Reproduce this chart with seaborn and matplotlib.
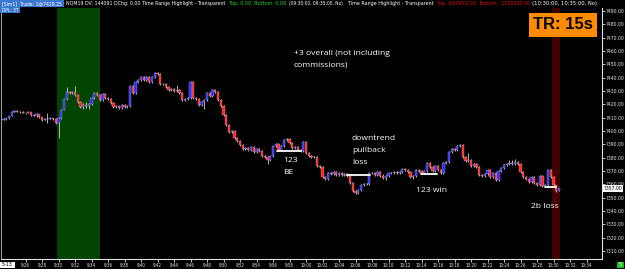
import matplotlib
matplotlib.use("Agg")
import matplotlib.pyplot as plt
import matplotlib.font_manager as fm
from matplotlib.font_manager import FontProperties
from matplotlib.patches import Rectangle
import numpy as np
import pandas as pd
import seaborn as sns

# ---------------- data ----------------
start_time = "2019-05-13 09:23:20"
bar_seconds = 20
tick_size = 0.25
first_open = 7408.50
last_price = 7357.00

closes = [
    7409.00, 7409.75,                      # 9:23
    7411.25, 7414.25, 7415.00,             # 9:24
    7414.25, 7414.50, 7413.50,             # 9:25
    7413.50, 7414.25, 7412.00,             # 9:26
    7411.25, 7412.75, 7410.50,             # 9:27
    7408.25, 7409.00, 7409.25,             # 9:28
    7409.75, 7409.00, 7406.00,             # 9:29
    7409.75, 7415.75, 7424.00,             # 9:30
    7429.25, 7428.50, 7429.25,             # 9:31
    7427.00, 7421.75, 7418.00,             # 9:32
    7419.50, 7418.75, 7420.25,             # 9:33
    7424.75, 7428.50, 7427.00,             # 9:34
    7423.25, 7427.75, 7424.75,             # 9:35
    7424.00, 7421.00, 7418.00,             # 9:36
    7418.75, 7417.25, 7419.50,             # 9:37
    7418.00, 7418.75, 7433.75,             # 9:38
    7428.50, 7436.75, 7438.25,             # 9:39
    7440.50, 7438.25, 7440.50,             # 9:40
    7436.75, 7440.50, 7443.50,             # 9:41
    7442.75, 7435.25, 7435.50,             # 9:42
    7433.00, 7430.75, 7431.50,             # 9:43
    7430.00, 7430.75, 7428.50,             # 9:44
    7423.25, 7424.00, 7424.75,             # 9:45
    7436.75, 7424.75, 7424.00,             # 9:46
    7419.50, 7421.75, 7423.25,             # 9:47
    7428.50, 7426.25, 7430.75,             # 9:48
    7429.25, 7423.25, 7418.75,             # 9:49
    7412.00, 7404.50, 7399.25,             # 9:50
    7400.00, 7394.75, 7392.50,             # 9:51
    7389.50, 7386.50, 7387.25,             # 9:52
    7385.75, 7388.00, 7384.25,             # 9:53
    7386.50, 7385.00, 7381.25,             # 9:54
    7380.50, 7378.25, 7381.25,             # 9:55
    7388.75, 7390.25, 7385.75,             # 9:56
    7388.75, 7393.25, 7394.00,             # 9:57
    7391.00, 7387.25, 7388.00,             # 9:58
    7385.75, 7385.00, 7391.75,             # 9:59
    7383.50, 7381.25, 7380.50,             # 10:00
    7380.75, 7373.75, 7373.00,             # 10:01
    7365.50, 7364.00, 7368.50,             # 10:02
    7367.75, 7369.25, 7367.00,             # 10:03
    7368.50, 7367.00, 7367.75,             # 10:04
    7366.25, 7361.00, 7355.00,             # 10:05
    7353.50, 7355.75, 7359.50,             # 10:06
    7360.25, 7360.00, 7368.50,             # 10:07
    7368.25, 7367.00, 7369.25,             # 10:08
    7366.25, 7364.75, 7366.25,             # 10:09
    7368.50, 7368.25, 7369.25,             # 10:10
    7368.50, 7369.25, 7371.50,             # 10:11
    7370.75, 7369.25, 7365.50,             # 10:12
    7366.25, 7370.75, 7370.00,             # 10:13
    7368.50, 7370.00, 7376.00,             # 10:14
    7373.00, 7370.00, 7373.75,             # 10:15
    7370.75, 7368.50, 7376.00,             # 10:16
    7376.75, 7384.25, 7386.50,             # 10:17
    7385.75, 7388.75, 7389.50,             # 10:18
    7380.50, 7377.50, 7378.25,             # 10:19
    7373.75, 7375.25, 7373.00,             # 10:20
    7367.00, 7366.25, 7367.75,             # 10:21
    7370.75, 7365.50, 7368.50,             # 10:22
    7363.25, 7370.00, 7372.25,             # 10:23
    7374.50, 7375.25, 7376.00,             # 10:24
    7375.25, 7376.75, 7375.25,             # 10:25
    7369.25, 7365.50, 7364.00,             # 10:26
    7361.75, 7365.50, 7361.00,             # 10:27
    7359.50, 7366.25, 7358.75,             # 10:28
    7359.50, 7370.75, 7365.50,             # 10:29
    7359.50, 7355.00, 7357.00,             # 10:30
]

# wick lengths above / below the body, in ticks
upper_wick_ticks = [
    2, 1,  1, 2, 2,  2, 1, 2,  1, 2, 1,  2, 2, 1,  1, 2, 16,  2, 1, 2,
    2, 2, 3,  15, 3, 2,  18, 2, 2,  6, 8, 4,  2, 3, 4,  3, 2, 3,  2, 3, 2,
    3, 2, 4,  2, 3, 2,  4, 2, 3,  3, 2, 4,  2, 3, 3,  3, 2, 2,  2, 3, 2,
    3, 15, 2,  2, 3, 2,  2, 2, 3,  3, 2, 2,  2, 3, 2,  3, 2, 2,  2, 2, 3,
    2, 3, 2,  3, 2, 2,  4, 3, 2,  3, 4, 2,  2, 2, 3,  3, 2, 3,  2, 3, 4,
    3, 2, 2,  2, 3, 2,  3, 2, 2,  2, 3, 2,  2, 2, 3,  3, 2, 2,  2, 3, 2,
    2, 2, 2,  2, 3, 2,  3, 2, 2,  4, 3, 2,  3, 6, 2,  4, 3, 2,  2, 3, 4,
    3, 2, 2,  2, 3, 2,  3, 2, 3,  2, 3, 2,  4, 2, 3,  2, 3, 2,  3, 2, 3,
    2, 3, 20,  3, 2, 3,  2, 3, 2,  3, 2, 3,  2, 3, 2,  4, 3, 10,  8, 10, 4,
    2, 3, 2,  3, 2, 3,  2, 3, 2,  3, 2, 3,  2, 1, 1,
]
lower_wick_ticks = [
    1, 2,  2, 1, 1,  1, 2, 1,  2, 1, 2,  1, 2, 2,  2, 1, 12,  1, 2, 2,
    45, 2, 1,  2, 2, 3,  2, 3, 2,  6, 5, 8,  3, 2, 2,  2, 4, 2,  3, 2, 4,
    4, 3, 2,  3, 2, 2,  2, 3, 2,  2, 3, 2,  3, 2, 2,  2, 3, 2,  3, 2, 3,
    2, 3, 2,  3, 2, 3,  2, 3, 2,  2, 3, 20,  3, 2, 2,  2, 3, 2,  2, 3, 2,
    3, 2, 3,  2, 3, 2,  3, 2, 4,  2, 3, 3,  3, 12, 2,  2, 3, 2,  3, 2, 2,
    2, 3, 2,  3, 2, 3,  2, 3, 2,  3, 2, 3,  3, 4, 2,  2, 3, 2,  3, 2, 3,
    3, 2, 3,  2, 3, 2,  2, 3, 2,  2, 3, 4,  2, 3, 5,  3, 2, 3,  3, 2, 2,
    4, 3, 2,  5, 2, 3,  2, 3, 2,  3, 2, 3,  2, 3, 2,  3, 2, 3,  2, 3, 2,
    3, 2, 3,  2, 3, 2,  3, 2, 3,  2, 3, 2,  3, 2, 3,  2, 3, 2,  3, 2, 3,
    3, 2, 3,  2, 3, 2,  3, 2, 4,  2, 3, 2,  2, 2, 1,
]

trade_labels = ["123 BE", "downtrend pullback loss", "123 win", "2b loss"]
trade_entry_time = ["09:56:30", "10:04:58", "10:13:55", "10:28:55"]
trade_exit_time = ["09:59:24", "10:07:45", "10:15:52", "10:30:21"]
trade_price = [7385.00, 7367.00, 7367.75, 7358.00]

green_range = ["09:29:50", "09:35:05"]
red_range = ["10:29:50", "10:30:50"]

y_tick_values = [7310, 7320, 7330, 7340, 7350, 7360, 7370, 7380, 7390, 7400,
                 7410, 7420, 7430, 7440, 7450, 7460, 7470, 7480, 7490]
x_tick_labels = ["9:26", "9:28", "9:30", "9:32", "9:34", "9:36", "9:38", "9:40",
                 "9:42", "9:44", "9:46", "9:48", "9:50", "9:52", "9:54", "9:56",
                 "9:58", "10:00", "10:02", "10:04", "10:06", "10:08", "10:10",
                 "10:12", "10:14", "10:16", "10:18", "10:20", "10:22", "10:24",
                 "10:26", "10:28", "10:30", "10:32", "10:34"]

header_segments = [
    "[Sim1]  Trade: 1@7429.25",
    "NQM19 DV: 144091 DChg: 0.00 Time Range Highlight - Transparent",
    "Top: 0.00  Bottom: 0.00",
    "(09:30:00, 09:35:00, No)",
    "Time Range Highlight - Transparent",
    "Top: 1000000.00  Bottom: -1000000.00",
    "(10:30:00, 10:35:00, No)",
]
header_line2 = "DPL: 3T"
timer_text = "TR: 15s"
date_text = "5-13"
annotations = ["+3 overall (not including", "commissions)", "123", "BE",
               "downtrend", "pullback", "loss", "123 win", "2b loss"]

# ---------------- style ----------------
sns.set_theme(style="ticks", rc={
    "figure.facecolor": "black", "axes.facecolor": "black",
    "savefig.facecolor": "black", "axes.grid": False,
})
names = {f.name for f in fm.fontManager.ttflist}
if "Liberation Sans Narrow" in names:
    UI_FP = FontProperties(family="Liberation Sans Narrow")
    NARROW = True
else:
    cond = FontProperties(family="DejaVu Sans", stretch="condensed")
    path = fm.findfont(cond, fallback_to_default=False)
    if "Condensed" in path:
        UI_FP = cond
        NARROW = True
    else:
        UI_FP = FontProperties(family="Liberation Sans")
        NARROW = False
ANNFONT = "Open Sans" if "Open Sans" in names else "DejaVu Sans"
plt.rcParams["font.family"] = ["Liberation Sans", "DejaVu Sans"]

W, H = 625, 269
fig = plt.figure(figsize=(W / 100, H / 100), dpi=100)
renderer = fig.canvas.get_renderer()

# axes geometry (pixels)
ax_l, ax_r, ax_t, ax_b = 1, 602, 8, 259
ax = fig.add_axes([ax_l / W, (H - ax_b) / H, (ax_r - ax_l) / W, (ax_b - ax_t) / H])
ax.set_facecolor("black")

px_per_min = 8.25
x_ref_px, x_ref_min = 306, 600.0
ax.set_xlim(x_ref_min + (ax_l - x_ref_px) / px_per_min,
            x_ref_min + (ax_r - x_ref_px) / px_per_min)
px_per_pt = 4 / 3
ax.set_ylim(7490 - (ax_b - 11) / px_per_pt, 7490 + (11 - ax_t) / px_per_pt)


def to_min(ts):
    t = pd.to_datetime(ts) if not isinstance(ts, pd.DatetimeIndex) else ts
    return t.hour * 60 + t.minute + t.second / 60.0


def hm_to_min(s):
    h, m = s.split(":")
    return int(h) * 60 + int(m)


# ---------------- bands ----------------
ax.axvspan(to_min("2019-05-13 " + green_range[0]), to_min("2019-05-13 " + green_range[1]),
           color="#004400", lw=0, zorder=0)
ax.axvspan(to_min("2019-05-13 " + red_range[0]), to_min("2019-05-13 " + red_range[1]),
           color="#420000", lw=0, zorder=0)

# ---------------- candles ----------------
times = pd.date_range(start_time, periods=len(closes), freq=f"{bar_seconds}s")
xm = np.asarray(to_min(times), dtype=float)
c = np.asarray(closes)
o = np.r_[first_open, c[:-1]]
hi = np.maximum(o, c) + np.asarray(upper_wick_ticks) * tick_size
lo = np.minimum(o, c) - np.asarray(lower_wick_ticks) * tick_size
cols = np.where(c > o, "#2b2bff", np.where(c < o, "#ff2222", "#9a9a9a"))
body_bottom = np.minimum(o, c)
body_h = np.maximum(np.abs(c - o), tick_size)

ax.vlines(xm, lo, hi, color="#c0c0c0", lw=0.65, zorder=2)
ax.bar(xm, body_h, bottom=body_bottom, width=0.26, color=cols,
       edgecolor="#d8d8d8", linewidth=0.2, zorder=3)

# ---------------- trade markers (seaborn) ----------------
rows = []
for name, t0, t1, p in zip(trade_labels, trade_entry_time, trade_exit_time, trade_price):
    rows.append({"trade": name, "t": to_min("2019-05-13 " + t0), "price": p})
    rows.append({"trade": name, "t": to_min("2019-05-13 " + t1), "price": p})
trades = pd.DataFrame(rows)
sns.lineplot(data=trades, x="t", y="price", units="trade", estimator=None,
             color="white", lw=1.3, ax=ax, legend=False, zorder=4)
ax.set_xlabel("")
ax.set_ylabel("")

# ---------------- axes / ticks ----------------
ax.spines["top"].set_visible(False)
ax.spines["left"].set_color("#9a9a9a")
ax.spines["left"].set_linewidth(0.8)
ax.spines["right"].set_color("#e0e0e0")
ax.spines["right"].set_linewidth(0.8)
ax.spines["bottom"].set_color("#e0e0e0")
ax.spines["bottom"].set_linewidth(0.8)

ax.yaxis.tick_right()
ax.set_yticks(y_tick_values)
ax.set_yticklabels([f"{v:.2f}" for v in y_tick_values])
ax.tick_params(axis="y", which="both", right=True, left=False, labelright=True,
               labelleft=False, length=2, width=0.6, colors="#e6e6e6", pad=0.8)
ax.set_xticks([hm_to_min(s) for s in x_tick_labels])
ax.set_xticklabels(x_tick_labels)
ax.tick_params(axis="x", which="both", bottom=True, length=2, width=0.6,
               colors="#e6e6e6", pad=0.8)


def fit_label(lbl, target_px):
    lbl.set_fontproperties(UI_FP)
    lbl.set_fontsize(5.0)
    w = lbl.get_window_extent(renderer=renderer).width
    return 5.0 * target_px / w


ylbls = ax.get_yticklabels()
ysz = fit_label(ylbls[-1], 19.0)
for lb in ylbls:
    lb.set_fontproperties(UI_FP)
    lb.set_fontsize(ysz)
xlbls = ax.get_xticklabels()
xsz = fit_label(xlbls[0], 9.3)
for lb in xlbls:
    lb.set_fontproperties(UI_FP)
    lb.set_fontsize(xsz)

# current price marker
pm = ax.annotate(f"{last_price:.2f}", xy=(1.0, last_price), xycoords=("axes fraction", "data"),
                 xytext=(1.3, 0), textcoords="offset points", ha="left", va="center",
                 color="black", zorder=10, annotation_clip=False,
                 bbox=dict(boxstyle="square,pad=0.15", fc="white", ec="none"))
pm.set_fontproperties(UI_FP)
pm.set_fontsize(ysz)


# ---------------- figure-level texts ----------------
def fig_rect(x0, y0, x1, y1, color, z=5):
    fig.add_artist(Rectangle((x0 / W, 1 - y1 / H), (x1 - x0) / W, (y1 - y0) / H,
                             transform=fig.transFigure, color=color, lw=0, zorder=z))


def fit_text(s, x0, x1, yc, color, fp, size0=5.0, weight="normal", z=6):
    t = fig.text(x0 / W, 1 - yc / H, s, color=color, ha="left", va="center", zorder=z)
    t.set_fontproperties(fp)
    t.set_fontsize(size0)
    t.set_fontweight(weight)
    w = t.get_window_extent(renderer=renderer).width
    t.set_fontsize(size0 * (x1 - x0) / w)
    return t


# header highlight boxes
fig_rect(0, 0, 64, 7.4, "#3a78d0")
fig_rect(0, 7.4, 20, 12.8, "#3a78d0")
seg_layout = [(2, 63, "white"), (66, 227, "white"), (229, 286, "#22dd22"),
              (289, 343, "white"), (348, 435, "white"), (437, 529, "#e01010"),
              (532, 597, "white")]
for s, (x0, x1, col) in zip(header_segments, seg_layout):
    fit_text(s, x0, x1, 4.0, col, UI_FP)
fit_text(header_line2, 2, 19, 10.2, "white", UI_FP)

# bar timer box
fig_rect(529, 12.7, 597, 36.7, "#ff8c00")
fit_text(timer_text, 533, 593, 24.7, "black", FontProperties(family="Liberation Sans"),
         size0=10, weight="bold")

# date box and bottom-right indicator
fig_rect(0, 261.5, 15, 267.5, "white")
fit_text(date_text, 2, 13, 264.6, "black", UI_FP)
fig_rect(617, 261.5, 624, 268, "#1fbf1f")
t5 = fig.text(620.5 / W, 1 - 264.8 / H, "5", color="white", ha="center",
              va="center", zorder=7)
t5.set_fontproperties(UI_FP)
t5.set_fontsize(4.5)

# annotations
ann_fp = FontProperties(family=ANNFONT)
t_ref = fit_text(annotations[0], 294, 389, 53.5, "white", ann_fp, size0=6)
asz = t_ref.get_fontsize()
ann_layout = [None, (294, 65.5), (283, 160.5), (283, 173.0),
              (352, 138.5), (352, 151.0), (352, 163.0), (416, 190.0), (531, 206.0)]
for s, pos in zip(annotations, ann_layout):
    if pos is None:
        continue
    fig.text(pos[0] / W, 1 - pos[1] / H, s, color="white", fontsize=asz,
             family=ANNFONT, ha="left", va="center", zorder=6)

fig.savefig("out.png", dpi=100, facecolor="black")
